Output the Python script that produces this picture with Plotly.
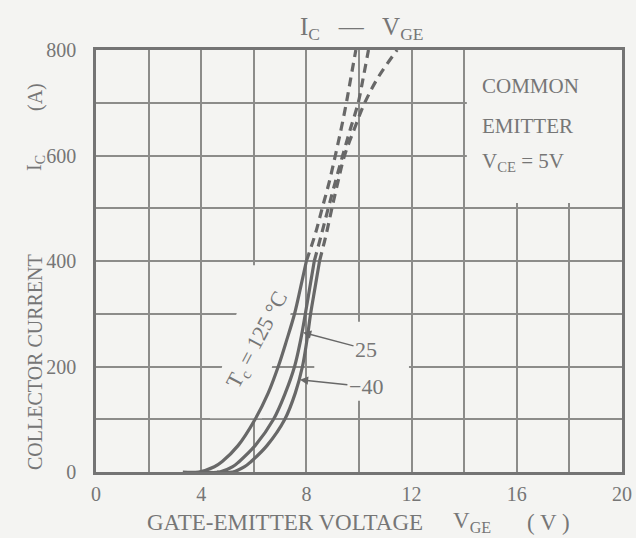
import numpy as np
import plotly.graph_objects as go

# Collector current levels (A) for the measured (solid) and extrapolated (dashed) parts
ic_solid = [0, 0, 10, 20, 50, 100, 150, 200, 250, 300, 350, 400]
ic_dash = [400, 450, 500, 550, 600, 650, 700, 750, 800]

# Gate-emitter voltage (V) at each current level, per case temperature
vge_125_solid = [3.3, 3.9, 4.5, 4.8, 5.4, 6.05, 6.55, 6.93, 7.25, 7.55, 7.78, 8.0]
vge_25_solid = [4.1, 4.7, 5.2, 5.45, 6.05, 6.75, 7.2, 7.55, 7.78, 7.96, 8.13, 8.3]
vge_m40_solid = [4.6, 5.2, 5.65, 5.9, 6.5, 7.18, 7.58, 7.85, 8.02, 8.16, 8.33, 8.5]

vge_125_dash = [8.0, 8.33, 8.6, 8.87, 9.1, 9.32, 9.52, 9.7, 9.88]
vge_25_dash = [8.3, 8.57, 8.83, 9.1, 9.38, 9.67, 9.97, 10.17, 10.36]
vge_m40_dash = [8.5, 8.75, 8.97, 9.2, 9.45, 9.82, 10.22, 10.75, 11.45]

x_ticks = [0, 4, 8, 12, 16, 20]
y_ticks = [0, 200, 400, 600, 800]

BG = "#f4f4f2"
INK = "#686868"
GRID = "#8c8c8a"
TXT = "#767676"
FONT = "Liberation Serif"

fig = go.Figure()

for vs, vd in [(vge_125_solid, vge_125_dash),
               (vge_25_solid, vge_25_dash),
               (vge_m40_solid, vge_m40_dash)]:
    fig.add_trace(go.Scatter(x=vs, y=ic_solid, mode="lines",
                             line=dict(color=INK, width=3.2, shape="spline"),
                             showlegend=False, hoverinfo="skip"))
    fig.add_trace(go.Scatter(x=vd, y=ic_dash, mode="lines",
                             line=dict(color=INK, width=3.2, shape="spline", dash="9px,6px"),
                             showlegend=False, hoverinfo="skip"))

# Paper-coloured patches that keep the grid away from the printed notes
patches = [
    dict(type="rect", x0=14.1, x1=20, y0=510, y1=800),
    dict(type="rect", x0=8.3, x1=11.9, y0=135, y1=285),
    dict(type="path",
         path="M 5.93 392 L 7.76 392 L 7.38 296 L 6.69 199 L 6.31 102 "
              "L 4.33 102 L 4.79 199 L 5.32 296 Z"),
]
for p in patches:
    fig.add_shape(**p, xref="x", yref="y", layer="between",
                  fillcolor=BG, line=dict(width=0))

ann = []
font = lambda s: dict(family=FONT, size=s, color=TXT)

# Title
ann.append(dict(xref="paper", yref="paper", x=0.505, y=1.052, yanchor="middle",
                text="I<sub>C</sub>   —   V<sub>GE</sub>", showarrow=False, font=font(25)))

# Y axis title pieces
for txt, py in [("COLLECTOR CURRENT", 362), ("I<sub>C</sub>", 163), ("(A)", 97)]:
    ann.append(dict(xref="paper", yref="paper", x=(35 - 96) / 526, y=(472 - py) / 422,
                    text=txt, textangle=-90, showarrow=False, font=font(20),
                    xanchor="center", yanchor="middle"))

# X axis title pieces
for txt, px in [("GATE-EMITTER VOLTAGE", 285), ("V<sub>GE</sub>", 472), ("( V )", 548)]:
    ann.append(dict(xref="paper", yref="paper", x=(px - 96) / 526, y=(472 - 522) / 422,
                    text=txt, showarrow=False, font=font(23),
                    xanchor="center", yanchor="middle"))

# Test condition note
for txt, iy in [("COMMON", 732), ("EMITTER", 656), ("V<sub>CE</sub> = 5V", 588)]:
    ann.append(dict(x=14.6, y=iy, xref="x", yref="y", text=txt, showarrow=False,
                    xanchor="left", yanchor="middle", font=font(21)))

# Temperature labels
ann.append(dict(x=6.16, y=250, xref="x", yref="y", text="T<sub>c</sub> = 125 °C",
                textangle=-62, showarrow=False, font=font(22)))

for txt, curve, at_i, ax, ay in [("25", vge_25_solid, 265, 64, 17),
                                 ("−40", vge_m40_solid, 175, 67, 7)]:
    tip_v = float(np.interp(at_i, ic_solid[1:], curve[1:]))
    ann.append(dict(x=tip_v, y=at_i, xref="x", yref="y", text=txt, showarrow=True,
                    ax=ax, ay=ay, arrowhead=2, arrowsize=1.1, arrowwidth=1.5,
                    arrowcolor=INK, standoff=1, font=font(22)))

fig.update_layout(
    width=636, height=538,
    margin=dict(l=96, r=14, t=50, b=66, autoexpand=False),
    paper_bgcolor=BG, plot_bgcolor=BG,
    annotations=ann,
    showlegend=False,
)
fig.update_xaxes(range=[0, 20], tickvals=x_ticks, ticks="", showgrid=True,
                 automargin=False,
                 gridcolor=GRID, gridwidth=1.6,
                 minor=dict(dtick=2, showgrid=True, gridcolor=GRID, gridwidth=1.6),
                 showline=True, mirror=True, linecolor="#747474", linewidth=2.6,
                 zeroline=False, tickfont=font(20), ticklabelstandoff=2)
fig.update_yaxes(range=[0, 800], tickvals=y_ticks, ticks="", showgrid=True,
                 automargin=False,
                 gridcolor=GRID, gridwidth=1.6,
                 minor=dict(dtick=100, showgrid=True, gridcolor=GRID, gridwidth=1.6),
                 showline=True, mirror=True, linecolor="#747474", linewidth=2.6,
                 zeroline=False, tickfont=font(20), ticklabelstandoff=13)

fig.write_html("out.html")
